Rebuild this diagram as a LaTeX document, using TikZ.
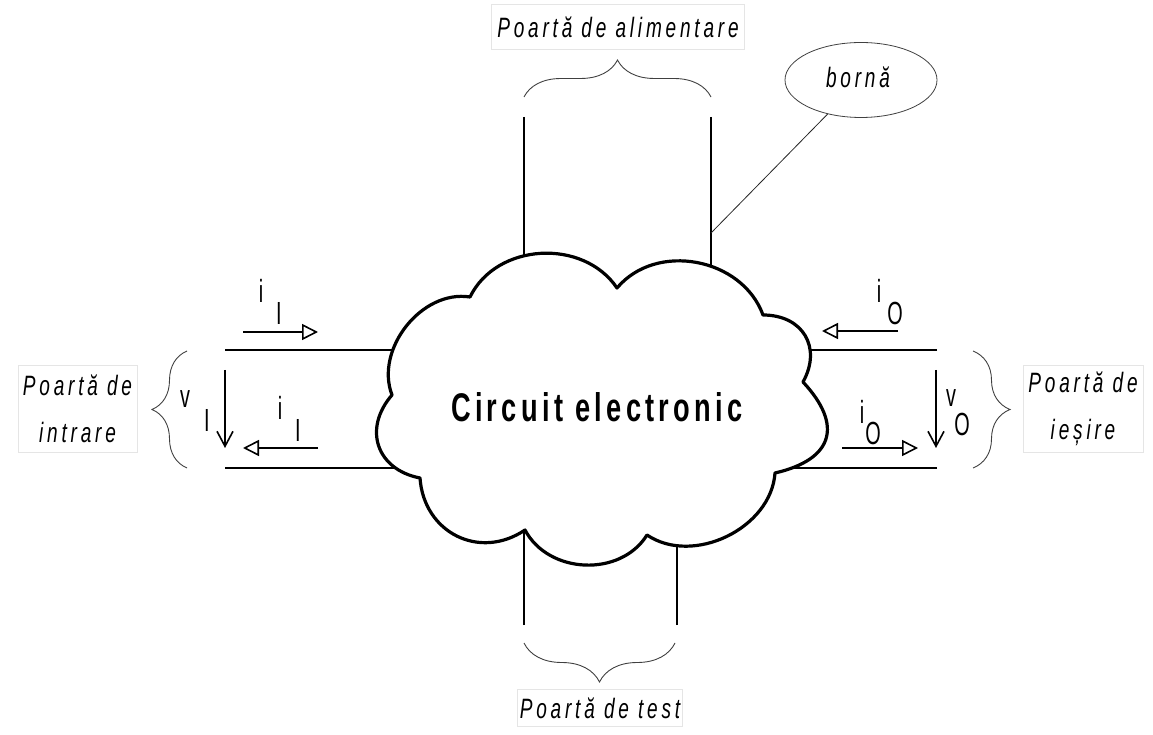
\documentclass[tikz,border=0pt]{standalone}
\usepackage{fontspec}
\setmainfont{Liberation Sans}
\newfontfamily\labfont[LetterSpace=20]{Liberation Sans}
\newfontfamily\titfont[LetterSpace=16]{Liberation Sans}
\usetikzlibrary{arrows.meta,decorations.pathreplacing,shapes.geometric}
\begin{document}
\begin{tikzpicture}[x=1pt,y=1pt,
  pinline/.style={line width=1.8pt},
  cloudline/.style={line width=3.2pt, fill=white, line join=round},
  brc/.style={decorate, decoration={brace, amplitude=#1}, draw=black!75, line width=0.9pt},
  cur/.style={line width=1.8pt, -{Triangle[open, length=16pt, width=16pt, line width=1.6pt]}},
  volt/.style={line width=1.6pt, -{Straight Barb[length=15pt, width=16pt, line width=1.6pt]}},
  lbox/.style={draw=black!10, line width=0.6pt, font=\labfont\itshape\fontsize{28}{47}\selectfont, xscale=0.68, align=center, inner sep=0pt},
  sym/.style={font=\fontsize{32}{34}\selectfont, xscale=0.62, inner sep=0pt},
]
\useasboundingbox (0,0) rectangle (1153,734);

% pins
\coordinate (ta1) at (524,617); \coordinate (ta2) at (524,460);
\coordinate (tb1) at (711,617); \coordinate (tb2) at (711,440);
\coordinate (tc) at (711,501);
\coordinate (ba1) at (524,109); \coordinate (ba2) at (524,230);
\coordinate (bb1) at (677,109); \coordinate (bb2) at (677,230);
\coordinate (la1) at (225,384); \coordinate (la2) at (420,384);
\coordinate (lb1) at (225,266); \coordinate (lb2) at (420,266);
\coordinate (ra1) at (937,384); \coordinate (ra2) at (780,384);
\coordinate (rb1) at (937,266); \coordinate (rb2) at (780,266);
\draw[pinline] (ta1) -- (ta2);
\draw[pinline] (tb1) -- (tb2);
\draw[pinline] (ba1) -- (ba2);
\draw[pinline] (bb1) -- (bb2);
\draw[pinline] (la1) -- (la2);
\draw[pinline] (lb1) -- (lb2);
\draw[pinline] (ra1) -- (ra2);
\draw[pinline] (rb1) -- (rb2);

% cloud
\draw[cloudline] (470,437)
  to[out=64,in=124,looseness=1.05] (617,446)
  to[out=50,in=110,looseness=1.05] (763,419)
  to[out=0,in=61,looseness=1.3] (803,352)
  to[out=-47,in=13,looseness=1.6] (775,261)
  to[out=266,in=326,looseness=1.0] (647,199)
  to[out=238,in=298,looseness=1.05] (525,204)
  to[out=214,in=274,looseness=1.2] (420,256)
  to[out=169,in=229,looseness=1.3] (392,339)
  to[out=111,in=171,looseness=1.0] (470,437) -- cycle;
\node[font=\titfont\bfseries\fontsize{40}{44}\selectfont, xscale=0.68, inner sep=0pt] (circ) at (597,327) {Circuit electronic};

% braces
\draw[brc=37] (524,637) -- (711,637);
\draw[brc=39] (675,91) -- (524,91);
\draw[brc=35] (187,266) -- (187,383);
\draw[brc=37] (973,383) -- (973,266);

% labels
\node[lbox, minimum width=372pt, minimum height=45pt] (lalim) at (618,707) {Poartă de alimentare};
\node[lbox, minimum width=243pt, minimum height=37pt] (ltest) at (600,26) {Poartă de test};
\node[lbox, minimum width=175pt, minimum height=87pt] (lin) at (77.5,325.5) {Poartă de\\intrare};
\node[lbox, minimum width=176pt, minimum height=87pt] (lout) at (1083,325.5) {Poartă de\\ieșire};
\node[ellipse, draw=black!75, line width=0.8pt, minimum width=152pt, minimum height=75pt, inner sep=0pt] (borna) at (861,654) {};
\node[font=\labfont\itshape\fontsize{28}{30}\selectfont, xscale=0.68, inner sep=0pt] (bt) at (858,657) {bornă};
\draw[line width=0.8pt, draw=black!85] (tc) -- (borna);

% currents and voltages
\coordinate (c1a) at (243,402); \coordinate (c1b) at (318,402);
\coordinate (c2a) at (318,286); \coordinate (c2b) at (243,286);
\coordinate (v1a) at (225,364); \coordinate (v1b) at (225,286);
\coordinate (c3a) at (898,403); \coordinate (c3b) at (822,403);
\coordinate (c4a) at (842,286); \coordinate (c4b) at (918,286);
\coordinate (v2a) at (936,364); \coordinate (v2b) at (936,286);
\draw[cur] (c1a) -- (c1b);
\draw[cur] (c2a) -- (c2b);
\draw[volt] (v1a) -- (v1b);
\draw[cur] (c3a) -- (c3b);
\draw[cur] (c4a) -- (c4b);
\draw[volt] (v2a) -- (v2b);

\node[sym] (i1) at (261,443) {i};  \node[sym] (i1s) at (279,421) {I};
\node[sym] (v1) at (185,335) {v};  \node[sym] (v1s) at (207,314) {I};
\node[sym] (i2) at (280,326) {i};  \node[sym] (i2s) at (298,304) {I};
\node[sym] (i3) at (879,443) {i};  \node[sym] (i3s) at (895,421) {O};
\node[sym] (i4) at (862,322) {i};  \node[sym] (i4s) at (873,301) {O};
\node[sym] (v2) at (951,336) {v};  \node[sym] (v2s) at (962,310) {O};
\end{tikzpicture}
\end{document}
